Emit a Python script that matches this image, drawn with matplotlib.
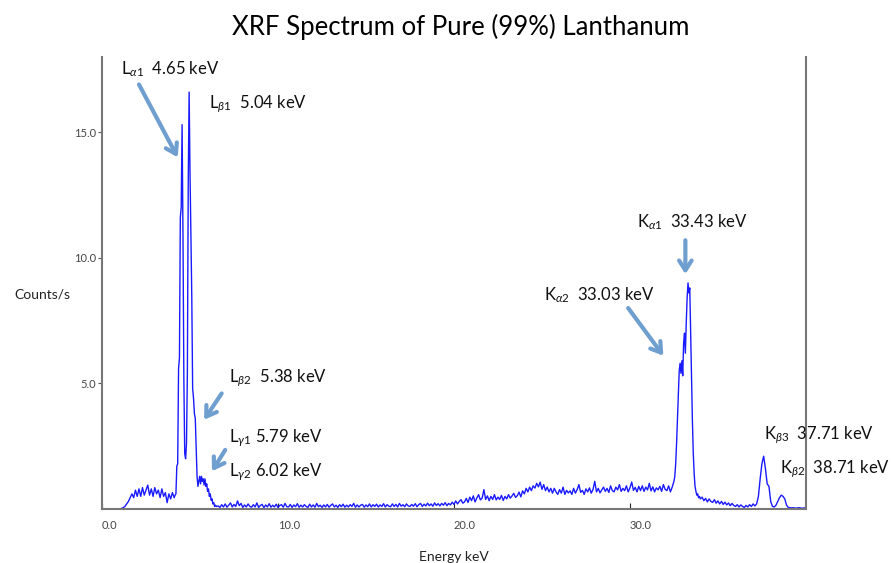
import numpy as np
import matplotlib
matplotlib.use('Agg')
import matplotlib.pyplot as plt

plt.rcParams['font.family'] = ['Lato', 'DejaVu Sans']
plt.rcParams['mathtext.fontset'] = 'custom'
plt.rcParams['mathtext.rm'] = 'Lato'
plt.rcParams['mathtext.it'] = 'Lato:italic'

# counts/s, 0.1 keV channels away from the peaks
low_counts = [0, 0, 0, 0, 0, 0, 0, 0, 0, 0,
              0, 0.02, 0.05, 0.1, 0.2, 0.3, 0.45, 0.6, 0.45, 0.75,
              0.5, 0.8, 0.5, 0.85, 0.55, 0.75, 0.95, 0.55, 0.8, 0.5,
              0.85, 0.6, 0.75, 0.45, 0.8, 0.5, 0.65, 0.25, 0.6, 0.4,
              0.65, 0.45]  # 0.0 - 4.1 keV

# L lines region, finer channels
l_energy = [4.15, 4.2, 4.25, 4.3, 4.35, 4.4, 4.45, 4.5, 4.55, 4.6,
            4.65, 4.7, 4.75, 4.8, 4.85, 4.9, 4.95, 5.0, 5.05, 5.1,
            5.15, 5.2, 5.25, 5.3, 5.35, 5.4, 5.45, 5.5, 5.55, 5.6,
            5.65, 5.7, 5.75, 5.8, 5.85, 5.9, 5.95, 6.0, 6.05, 6.1,
            6.15, 6.2, 6.25, 6.3, 6.35, 6.4, 6.45, 6.5]
l_counts = [0.55, 0.6, 1.7, 1.8, 5.6, 6.0, 11.6, 12.0, 15.3, 11.0,
            5.2, 2.2, 2.0, 2.6, 5.4, 13.0, 16.6, 13.4, 10.8, 8.5,
            4.8, 4.4, 3.8, 3.6, 2.4, 1.3, 0.9, 1.1, 1.3, 1.0,
            1.3, 1.1, 1.2, 0.95, 1.2, 0.9, 1.0, 0.7, 0.8, 0.5,
            0.6, 0.35, 0.4, 0.2, 0.25, 0.1, 0.15, 0.1]

mid_counts = [0.12, 0.06, 0.17, 0.08, 0.2, 0.07, 0.15, 0.24, 0.08, 0.18,   # 6.6
              0.1, 0.32, 0.13, 0.22, 0.06, 0.16, 0.08, 0.2, 0.1, 0.07,    # 7.6
              0.17, 0.08, 0.24, 0.06, 0.14, 0.18, 0.05, 0.16, 0.08, 0.21,   # 8.6
              0.07, 0.15, 0.08, 0.19, 0.06, 0.14, 0.17, 0.07, 0.22, 0.09,   # 9.6
              0.08, 0.18, 0.06, 0.16, 0.09, 0.21, 0.07, 0.15, 0.08, 0.17,   # 10.6
              0.1, 0.06, 0.19, 0.08, 0.16, 0.07, 0.22, 0.09, 0.15, 0.06,   # 11.6
              0.16, 0.08, 0.18, 0.07, 0.14, 0.2, 0.08, 0.15, 0.06, 0.17,   # 12.6
              0.09, 0.19, 0.07, 0.15, 0.08, 0.17, 0.1, 0.22, 0.07, 0.16,   # 13.6
              0.08, 0.15, 0.18, 0.07, 0.16, 0.09, 0.2, 0.08, 0.17, 0.1,   # 14.6
              0.19, 0.08, 0.16, 0.1, 0.21, 0.08, 0.17, 0.11, 0.09, 0.2,   # 15.6
              0.1, 0.18, 0.08, 0.22, 0.11, 0.17, 0.09, 0.2, 0.12, 0.1,   # 16.6
              0.18, 0.11, 0.21, 0.09, 0.17, 0.22, 0.1, 0.19, 0.12, 0.23,  # 17.6
              0.13, 0.2, 0.11, 0.24, 0.14, 0.21, 0.12, 0.22, 0.15, 0.25,  # 18.6
              0.13, 0.22, 0.16, 0.27, 0.18, 0.32, 0.2, 0.3, 0.37, 0.23,    # 19.6
              0.28, 0.42, 0.26, 0.47, 0.33, 0.52, 0.28, 0.44, 0.57, 0.36,     # 20.6
              0.43, 0.77, 0.38, 0.52, 0.33, 0.5, 0.38, 0.57, 0.36, 0.47,    # 21.6
              0.38, 0.54, 0.34, 0.5, 0.4, 0.57, 0.43, 0.52, 0.62, 0.46,    # 22.6
              0.53, 0.67, 0.48, 0.72, 0.6, 0.82, 0.68, 0.87, 0.73, 0.92,      # 23.6
              0.83, 1.02, 0.88, 1.07, 0.78, 0.97, 0.73, 0.87, 0.68, 0.82,      # 24.6
              0.63, 0.82, 0.68, 0.58, 0.77, 0.63, 0.87, 0.58, 0.74, 0.64,     # 25.6
              0.72, 0.58, 0.82, 0.63, 0.77, 0.97, 0.66, 0.74, 0.58, 0.8,     # 26.6
              0.68, 0.84, 0.63, 0.77, 1.1, 0.68, 0.82, 0.64, 0.76, 0.87,     # 27.6
              0.7, 0.82, 0.66, 0.92, 0.73, 0.68, 0.87, 0.76, 0.97, 0.7,    # 28.6
              0.82, 0.73, 0.92, 0.68, 0.84, 1.07, 0.74, 0.86, 0.68, 0.9,     # 29.6
              0.73, 0.92, 0.7, 0.87, 0.76, 1.02, 0.72, 0.88, 0.68, 0.84,    # 30.6
              0.76, 0.9, 0.7, 0.97, 0.78, 0.73, 0.92, 0.68, 0.87, 1.1]     # 31.6

# K alpha region
k_energy = [32.55, 32.6, 32.65, 32.7, 32.75, 32.8, 32.85, 32.9, 32.95, 33.0,
            33.05, 33.1, 33.15, 33.2, 33.25, 33.3, 33.35, 33.4, 33.45, 33.5,
            33.55, 33.6, 33.65, 33.7, 33.75, 33.8, 33.85, 33.9, 33.95, 34.0]
k_counts = [1.3, 1.8, 2.6, 3.6, 4.5, 5.5, 5.8, 5.4, 5.9, 5.3,
            6.6, 7.0, 6.2, 7.4, 8.4, 9.0, 8.6, 8.8, 7.0, 5.2,
            3.5, 2.2, 1.4, 0.9, 0.7, 0.55, 0.6, 0.45, 0.5, 0.4]

high_counts = [0.47, 0.33, 0.42, 0.28, 0.4, 0.3, 0.26, 0.37, 0.23, 0.32,   # 34.1
               0.2, 0.3, 0.18, 0.27, 0.16, 0.24, 0.13, 0.22, 0.14, 0.1,  # 35.1
               0.17, 0.08, 0.16, 0.1, 0.06, 0.14, 0.08, 0.17, 0.1, 0.2,   # 36.1
               0.12, 0.2, 0.5, 1.2, 1.8, 2.1, 1.6, 1.0, 0.9, 0.3,         # 37.1
               0.1, 0.08, 0.15, 0.3, 0.45, 0.55, 0.5, 0.4, 0.15, 0.06,    # 38.1
               0.05, 0.04, 0.05, 0.03, 0.04, 0.05, 0.04, 0.03, 0.04, 0.05]  # 39.1

low_energy = np.round(np.arange(0.0, 4.15, 0.1), 2)
mid_energy = np.round(np.arange(6.6, 32.55, 0.1), 2)
high_energy = np.round(np.arange(34.1, 40.05, 0.1), 2)

energy = np.concatenate([low_energy, l_energy, mid_energy, k_energy, high_energy])
counts = np.concatenate([low_counts, l_counts, mid_counts, k_counts, high_counts])

# peak labels: text, x, y in data units
labels = [
    (r'L$_{\alpha1}$  4.65 keV', 1.1, 17.5),
    (r'L$_{\beta1}$  5.04 keV', 6.1, 16.1),
    (r'L$_{\beta2}$  5.38 keV', 7.2, 5.2),
    (r'L$_{\gamma1}$ 5.79 keV', 7.2, 2.8),
    (r'L$_{\gamma2}$ 6.02 keV', 7.2, 1.45),
    (r'K$_{\alpha1}$  33.43 keV', 30.4, 11.4),
    (r'K$_{\alpha2}$  33.03 keV', 25.1, 8.5),
    (r'K$_{\beta3}$  37.71 keV', 37.6, 2.95),
    (r'K$_{\beta2}$  38.71 keV', 38.55, 1.6),
]
arrows = [
    ((2.1, 16.9), (4.3, 14.0)),
    ((6.8, 4.6), (5.8, 3.55)),
    ((7.0, 2.35), (6.25, 1.5)),
    ((33.15, 10.7), (33.15, 9.35)),
    ((29.9, 8.0), (31.9, 6.1)),
]

fig = plt.figure(figsize=(8.91, 5.63), dpi=100)
ax = fig.add_axes([0.1145, 0.096, 0.79, 0.803])

ax.plot(energy, counts, color='#1a1aff', lw=1.0)

ax.set_xlim(0, 40)
ax.set_ylim(0, 18)

ax.set_xticks([0, 10, 20, 30])
ax.set_xticklabels(['0.0', '10.0', '20.0', '30.0'], ha='left')
ax.set_yticks([5, 10, 15])
ax.set_yticklabels(['5.0', '10.0', '15.0'])
ax.tick_params(axis='x', direction='in', length=4, color='#222222', labelsize=8,
               labelcolor='#444444', pad=8)
ax.tick_params(axis='y', direction='out', length=3, color='#555555', labelsize=8,
               labelcolor='#444444', pad=1)

ax.spines['top'].set_visible(False)
for s in ['left', 'right', 'bottom']:
    ax.spines[s].set_color('#777777')
    ax.spines[s].set_linewidth(1.5)

ax.set_xlabel('Energy keV', fontsize=10, color='#222222', labelpad=14)
ax.set_ylabel('Counts/s', fontsize=10, color='#222222', rotation=0, va='center')
ax.yaxis.set_label_coords(-0.085, 0.475)

fig.suptitle('XRF Spectrum of Pure (99%) Lanthanum', fontsize=18.5, x=0.517, y=0.975)

for txt, tx, ty in labels:
    ax.text(tx, ty, txt, fontsize=12, color='#111111', va='center', ha='left')

for tail, head in arrows:
    ax.annotate('', xy=head, xytext=tail,
                arrowprops=dict(arrowstyle='->, head_length=0.7, head_width=0.45',
                                color='#6f9fcf', lw=3, shrinkA=0, shrinkB=0))

fig.savefig('out.png', dpi=100)
